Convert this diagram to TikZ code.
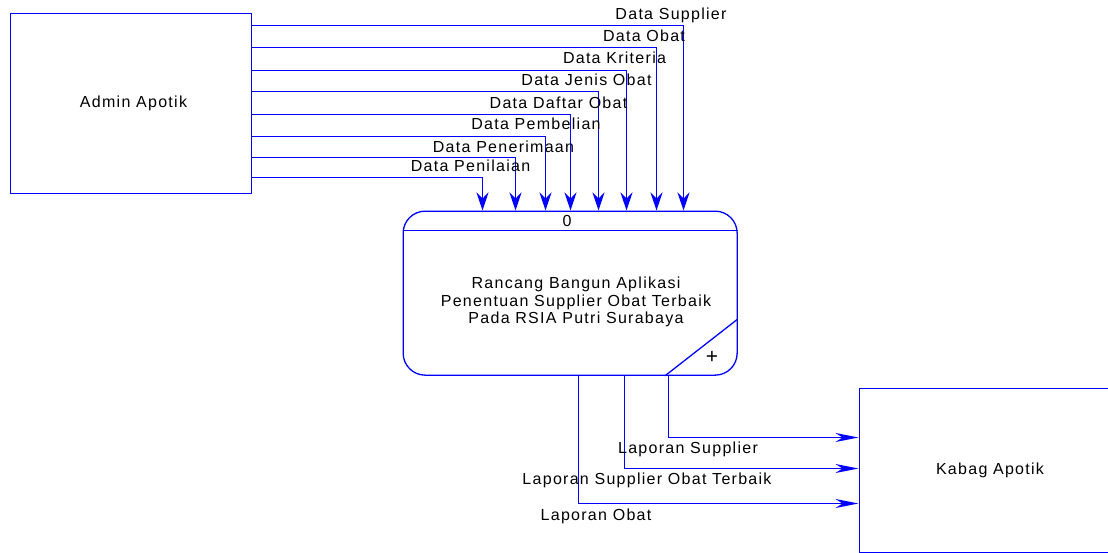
\documentclass[tikz,border=0pt]{standalone}
\usepackage{fontspec}
\setmainfont{Liberation Sans}[LetterSpace=8]
\usetikzlibrary{arrows.meta}
\definecolor{dfdline}{RGB}{0,0,255}
\tikzset{
  every node/.style={font=\fontsize{16}{17.5}\selectfont, text=black, inner sep=0pt},
  entity/.style={draw=dfdline, line width=1.3pt, rectangle, anchor=north west},
  process/.style={draw=dfdline, line width=1.3pt, rectangle, rounded corners=22pt, anchor=north west},
  flowdown/.style={draw=dfdline, line width=1.3pt, -{Stealth[length=18pt, width=12pt, inset=6pt]}},
  flowright/.style={draw=dfdline, line width=1.3pt, -{Stealth[length=23pt, width=9pt, inset=7pt]}},
  flowlabel/.style={anchor=base},
}
\begin{document}
\begin{tikzpicture}[x=1pt, y=-1pt]
  \useasboundingbox (0,0) rectangle (1108,552);

  % external entities and the context process
  \node[entity, minimum width=241pt, minimum height=180pt] (admin) at (9.5,12.5) {};
  \node (admintext) at (133.5,103) {Admin Apotik};

  \node[entity, minimum width=260pt, minimum height=164pt] (kabag) at (858.5,387.5) {};
  \node (kabagtext) at (990,470) {Kabag Apotik};

  \node[process, minimum width=334pt, minimum height=164pt] (proc) at (402.5,210.5) {};
  \draw[dfdline, line width=1.3pt] (proc.west |- 0,230.5) -- (proc.east |- 0,230.5);
  \node (procid) at (567,221) {0};
  \node[align=center] (proctext) at (576,302) {Rancang Bangun Aplikasi\\Penentuan Supplier Obat Terbaik\\Pada RSIA Putri Surabaya};
  \coordinate (cutA) at (proc.east |- 0,319);
  \coordinate (cutB) at (proc.south -| 665,0);
  \draw[dfdline, line width=1.3pt] (cutA) -- (cutB);
  \node[font=\fontsize{21}{21}\selectfont] (procplus) at (712,357) {+};

  % input flows from Admin Apotik
  \draw[flowdown] (admin.east |- 0,25.5)  -| (proc.north -| 683.5,0);
  \draw[flowdown] (admin.east |- 0,47.5)  -| (proc.north -| 656.5,0);
  \draw[flowdown] (admin.east |- 0,70.5)  -| (proc.north -| 626.5,0);
  \draw[flowdown] (admin.east |- 0,91.5)  -| (proc.north -| 598.5,0);
  \draw[flowdown] (admin.east |- 0,114.5) -| (proc.north -| 570.5,0);
  \draw[flowdown] (admin.east |- 0,136.5) -| (proc.north -| 545.5,0);
  \draw[flowdown] (admin.east |- 0,157.5) -| (proc.north -| 515.5,0);
  \draw[flowdown] (admin.east |- 0,177.5) -| (proc.north -| 482.5,0);

  \node[flowlabel] (lsupplier)   at (671,19)  {Data Supplier};
  \node[flowlabel] (lobat)       at (644,41)  {Data Obat};
  \node[flowlabel] (lkriteria)   at (614.5,63)  {Data Kriteria};
  \node[flowlabel] (ljenis)      at (586.5,85)  {Data Jenis Obat};
  \node[flowlabel] (ldaftar)     at (558.5,108) {Data Daftar Obat};
  \node[flowlabel] (lpembelian)  at (536,129) {Data Pembelian};
  \node[flowlabel] (lpenerimaan) at (503.5,152) {Data Penerimaan};
  \node[flowlabel] (lpenilaian)  at (470.5,171) {Data Penilaian};

  % report flows to Kabag Apotik
  \draw[flowright] (proc.south -| 668.5,0) |- (kabag.west |- 0,437.5);
  \draw[flowright] (proc.south -| 624.5,0) |- (kabag.west |- 0,468.5);
  \draw[flowright] (proc.south -| 578.5,0) |- (kabag.west |- 0,503.5);

  \node[flowlabel] (rsupplier) at (688,453) {Laporan Supplier};
  \node[flowlabel] (rterbaik)  at (647,484) {Laporan Supplier Obat Terbaik};
  \node[flowlabel] (robat)     at (596,520) {Laporan Obat};
\end{tikzpicture}
\end{document}
